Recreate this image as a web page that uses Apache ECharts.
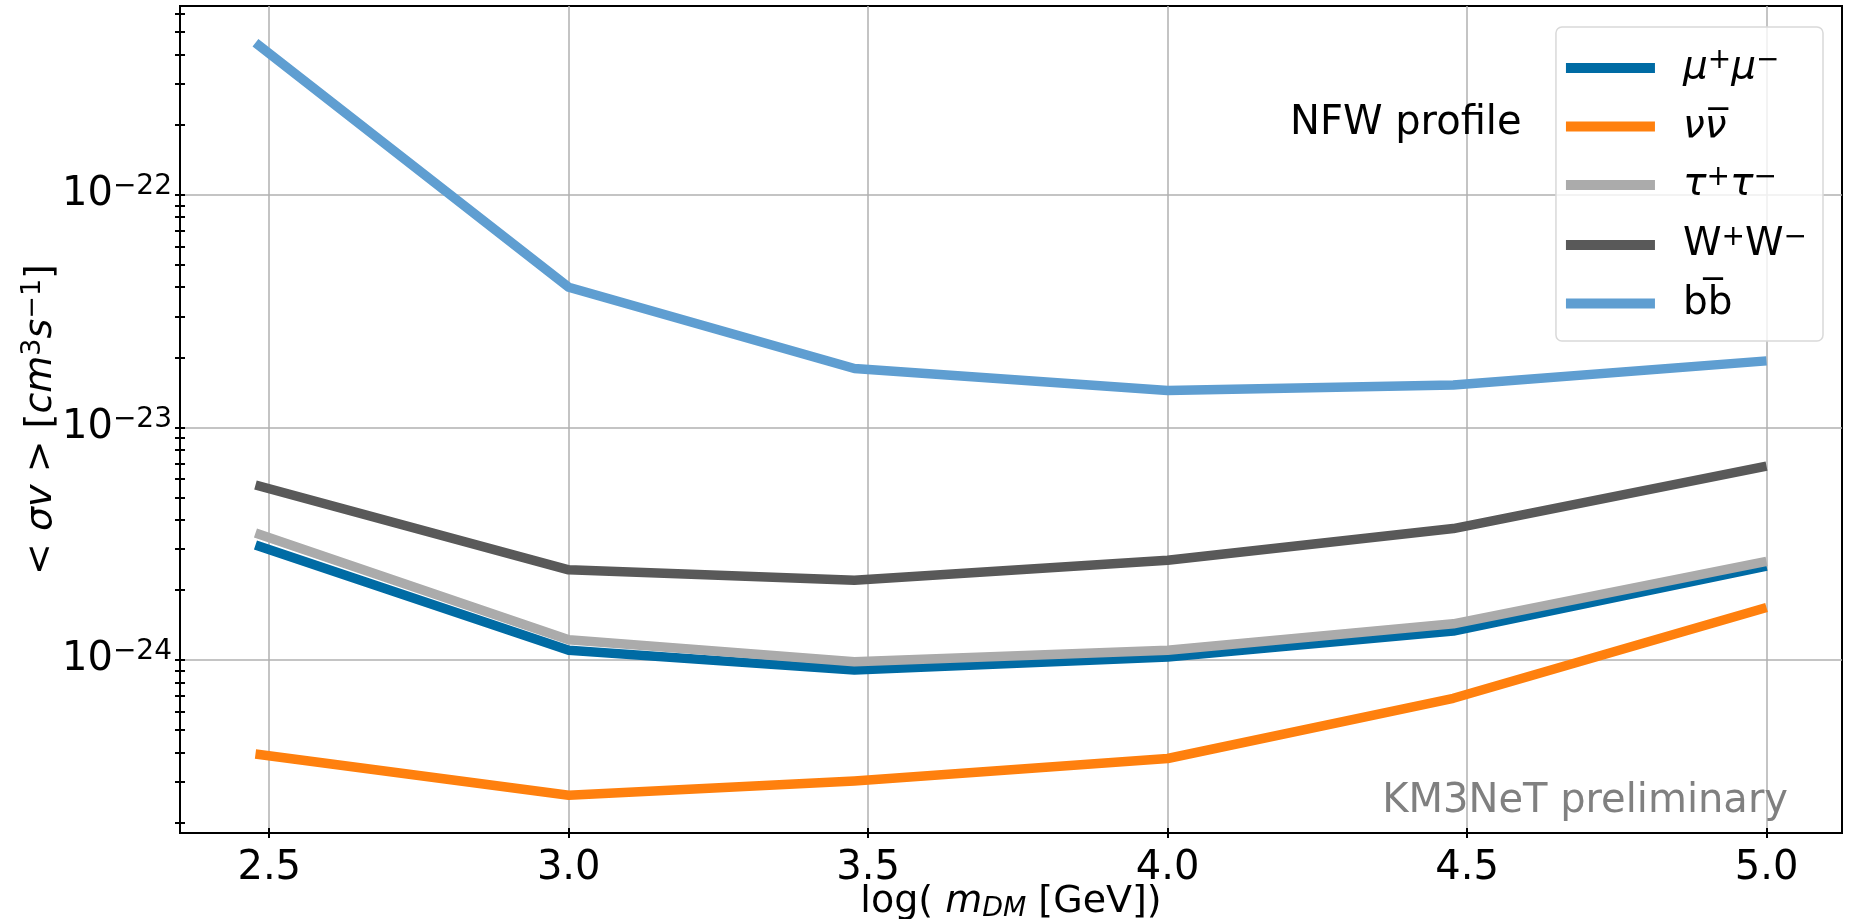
<!DOCTYPE html>
<html>
<head>
<meta charset="utf-8">
<script src="https://cdn.jsdelivr.net/npm/echarts@6/dist/echarts.min.js"></script>
<style>html,body{margin:0;padding:0;background:#fff;}#c{width:1850px;height:919px;}</style>
</head>
<body>
<div id="c"></div>
<script>
// log10(m_DM / GeV)
const massLog = [2.477, 3.0, 3.477, 4.0, 4.477, 5.0];
// <sigma v> limits [cm^3 s^-1]
const muMu   = [3.12e-24, 1.10e-24, 9.04e-25, 1.03e-24, 1.33e-24, 2.53e-24];
const nuNu   = [3.94e-25, 2.62e-25, 3.02e-25, 3.77e-25, 6.84e-25, 1.68e-24];
const tauTau = [3.51e-24, 1.22e-24, 9.82e-25, 1.10e-24, 1.43e-24, 2.65e-24];
const wW     = [5.65e-24, 2.44e-24, 2.20e-24, 2.68e-24, 3.67e-24, 6.81e-24];
const bB     = [4.50e-22, 4.00e-23, 1.79e-23, 1.44e-23, 1.52e-23, 1.93e-23];
const seriesNames = ['mumu', 'nunu', 'tautau', 'ww', 'bb'];
const xTicks = [2.5, 3.0, 3.5, 4.0, 4.5, 5.0];
const yDecades = [-24, -23, -22];

const colors = ['#006ba4', '#ff800e', '#ababab', '#595959', '#5f9ed1'];
const allData = [muMu, nuNu, tauTau, wW, bB];

const yMin = -24.744, yMax = -21.189;
const xMin = 2.351, xMax = 5.126;

const yMinor = [];
for (const d of [-25, -24, -23, -22]) {
  for (let k = 1; k <= 9; k++) {
    const v = d + Math.log10(k);
    if (v >= yMin && v <= yMax) yMinor.push(v);
  }
}

const FONT = 'DejaVu Sans';
const legendRich = {
  sp: { width: 23, fontSize: 39, fontFamily: FONT },
  n: { fontSize: 39, fontFamily: FONT, color: '#000', lineHeight: 42 },
  i: { fontSize: 39, fontFamily: FONT, fontStyle: 'italic', color: '#000', lineHeight: 42 },
  s: { fontSize: 28, fontFamily: FONT, color: '#000', verticalAlign: 'top', lineHeight: 42, padding: [0, 0, 14, 0] }
};
const legendText = {
  mumu: '{sp| }{i|μ}{s|+}{i|μ}{s|−}',
  nunu: '{sp| }{i|νν\u0305}',
  tautau: '{sp| }{i|τ}{s|+}{i|τ}{s|−}',
  ww: '{sp| }{n|W}{s|+}{n|W}{s|−}',
  bb: '{sp| }{n|bb\u0305}'
};

const chart = echarts.init(document.getElementById('c'), null, { renderer: 'canvas' });

const yBase = {
  type: 'value', min: yMin, max: yMax, position: 'left',
  axisLine: { show: false }, axisLabel: { show: false },
  splitLine: { show: false }
};

chart.setOption({
  animation: false,
  backgroundColor: '#fff',
  grid: { left: 180, right: 8, top: 6, bottom: 86, containLabel: false, outerBoundsMode: 'none', show: true, borderColor: '#000', borderWidth: 2, backgroundColor: 'transparent' },
  xAxis: [
    {
      type: 'value', min: xMin, max: xMax,
      axisLine: { show: true, onZero: false, lineStyle: { color: '#000', width: 2 } },
      axisTick: { show: true, customValues: xTicks, length: 5, lineStyle: { color: '#000', width: 2 } },
      axisLabel: { customValues: xTicks, formatter: v => v.toFixed(1), fontSize: 40, fontFamily: FONT, color: '#000', margin: 16 },
      splitLine: { show: true, lineStyle: { color: '#b0b0b0', width: 1.5 } },
      name: '{n|log( }{i|m}{sub|DM}{n| [GeV])}',
      nameLocation: 'middle', nameGap: 50, nameMoveOverlap: false,
      nameTextStyle: {
        rich: {
          n: { fontSize: 38, fontFamily: FONT, color: '#000' },
          i: { fontSize: 38, fontFamily: FONT, fontStyle: 'italic', color: '#000' },
          sub: { fontSize: 27, fontFamily: FONT, fontStyle: 'italic', color: '#000', verticalAlign: 'bottom', padding: [12, 0, 0, 0] }
        }
      }
    },
    {
      type: 'value', min: xMin, max: xMax, position: 'bottom',
      axisLine: { show: false },
      axisTick: { show: true, inside: true, customValues: xTicks, length: 5, lineStyle: { color: '#000', width: 2 } },
      axisLabel: { show: false }, splitLine: { show: false }
    }
  ],
  yAxis: [
    {
      type: 'value', min: yMin, max: yMax, position: 'left',
      axisLine: { show: true, lineStyle: { color: '#000', width: 2 } },
      axisTick: { show: false, customValues: yDecades },
      axisLabel: {
        customValues: yDecades, margin: 8,
        formatter: v => '{b|10}{s|−' + Math.abs(Math.round(v)) + '}',
        rich: {
          b: { fontSize: 40, fontFamily: FONT, color: '#000', lineHeight: 44 },
          s: { fontSize: 28, fontFamily: FONT, color: '#000', verticalAlign: 'top', lineHeight: 44, padding: [0, 0, 16, 0] }
        }
      },
      splitLine: { show: true, lineStyle: { color: '#b0b0b0', width: 1.5 } },
      name: '{n|< }{i|σv}{n| > [}{i|cm}{s|3}{i|s}{s|−1}{n|]}',
      nameLocation: 'middle', nameGap: 117, nameMoveOverlap: false,
      nameTextStyle: {
        rich: {
          n: { fontSize: 38, fontFamily: FONT, color: '#000', lineHeight: 44 },
          i: { fontSize: 38, fontFamily: FONT, fontStyle: 'italic', color: '#000', lineHeight: 44 },
          s: { fontSize: 27, fontFamily: FONT, color: '#000', lineHeight: 44, verticalAlign: 'top', padding: [0, 0, 14, 0] }
        }
      }
    },
    Object.assign({}, yBase, { axisTick: { show: true, customValues: yMinor, length: 5, lineStyle: { color: '#000', width: 2 } } }),
    Object.assign({}, yBase, { axisTick: { show: true, inside: true, customValues: yMinor, length: 5, lineStyle: { color: '#000', width: 2 } } })
  ],
  legend: {
    right: 27, top: 27, orient: 'vertical',
    data: seriesNames,
    icon: 'rect', itemWidth: 89, itemHeight: 10, itemGap: 18,
    padding: [20, 16, 18, 10],
    backgroundColor: 'rgba(255,255,255,0.8)', borderColor: '#d9d9d9', borderWidth: 1.5, borderRadius: 6,
    formatter: n => legendText[n],
    textStyle: { rich: legendRich, fontSize: 39, fontFamily: FONT },
    z: 10
  },
  graphic: [
    { type: 'text', left: 1290, top: 104, style: { text: 'NFW profile', font: '40px "DejaVu Sans"', fill: '#000' }, z: 5 },
    { type: 'text', right: 62, top: 782, style: { text: 'KM3NeT preliminary', font: '40px "DejaVu Sans"', fill: '#808080' }, z: 5 }
  ],
  series: seriesNames.map((n, i) => ({
    name: n, type: 'line', xAxisIndex: 0, yAxisIndex: 0,
    data: massLog.map((x, j) => [x, Math.log10(allData[i][j])]),
    symbol: 'none', showSymbol: false,
    lineStyle: { color: colors[i], width: 9.5, cap: 'butt', join: 'round' },
    itemStyle: { color: colors[i] },
    z: 2 + i * 0.01
  }))
});
</script>
</body>
</html>
